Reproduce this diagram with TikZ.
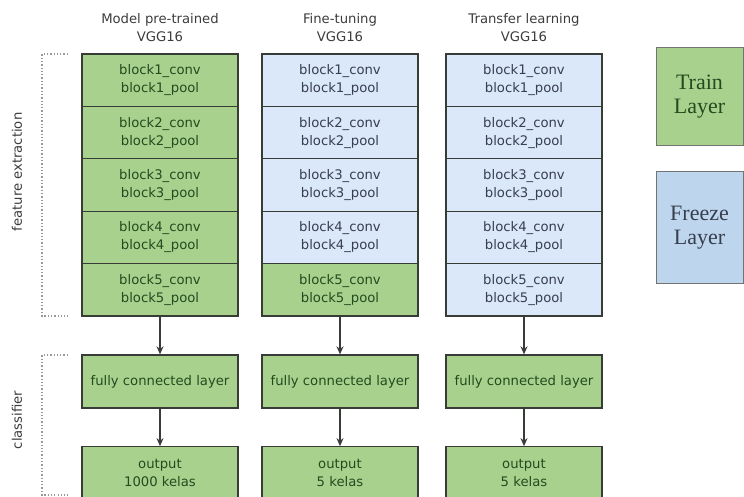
\documentclass[tikz,border=0pt]{standalone}
\usepackage{fontspec}
\setmainfont{DejaVu Sans}
\newfontfamily\legfont{Liberation Serif}
\usetikzlibrary{arrows.meta,positioning,calc}
\definecolor{gfill}{RGB}{169,209,142}
\definecolor{bfill}{RGB}{218,232,250}
\definecolor{lbfill}{RGB}{189,214,238}
\definecolor{edgecol}{RGB}{55,60,55}
\definecolor{gtext}{RGB}{35,75,30}
\definecolor{btext}{RGB}{55,62,78}
\definecolor{ttext}{RGB}{60,60,60}
\tikzset{
  blk/.style={draw=edgecol, line width=1.3pt, minimum width=156pt, minimum height=52.4pt,
    inner sep=0pt, align=center, font=\fontsize{13.2}{18}\selectfont},
  gblk/.style={blk, fill=gfill, text=gtext},
  bblk/.style={blk, fill=bfill, text=btext},
  ttl/.style={align=center, text=ttext, font=\fontsize{13.2}{18}\selectfont},
  arr/.style={draw=edgecol, line width=1.3pt, -{Stealth[length=8pt,width=7pt]}},
  brk/.style={draw=gray!80, line width=1.3pt, dash pattern=on 1.3pt off 2pt},
  side/.style={text=ttext, rotate=90, font=\fontsize{13.2}{16}\selectfont},
  leg/.style={draw=gray!90!black, line width=1pt, minimum width=87pt, inner sep=0pt,
    align=center, font=\legfont\fontsize{22}{24}\selectfont},
}
\begin{document}
\begin{tikzpicture}[x=1pt,y=-1pt]
\useasboundingbox (0,0) rectangle (744,497);
% titles
\node[ttl] (t1) at (160,28) {Model pre-trained\\VGG16};
\node[ttl] (t2) at (340,28) {Fine-tuning\\VGG16};
\node[ttl] (t3) at (524,28) {Transfer learning\\VGG16};
% column 1
\node[gblk] (a1) at (160,80.2) {block1\_conv\\block1\_pool};
\node[gblk] (a2) at (160,132.6) {block2\_conv\\block2\_pool};
\node[gblk] (a3) at (160,185) {block3\_conv\\block3\_pool};
\node[gblk] (a4) at (160,237.4) {block4\_conv\\block4\_pool};
\node[gblk] (a5) at (160,289.8) {block5\_conv\\block5\_pool};
\node[gblk, minimum height=53pt] (af) at (160,381.5) {fully connected layer};
\node[gblk] (ao) at (160,473) {output\\1000 kelas};
% column 2
\node[bblk] (b1) at (340,80.2) {block1\_conv\\block1\_pool};
\node[bblk] (b2) at (340,132.6) {block2\_conv\\block2\_pool};
\node[bblk] (b3) at (340,185) {block3\_conv\\block3\_pool};
\node[bblk] (b4) at (340,237.4) {block4\_conv\\block4\_pool};
\node[gblk] (b5) at (340,289.8) {block5\_conv\\block5\_pool};
\node[gblk, minimum height=53pt] (bf) at (340,381.5) {fully connected layer};
\node[gblk] (bo) at (340,473) {output\\5 kelas};
% column 3
\node[bblk] (c1) at (524,80.2) {block1\_conv\\block1\_pool};
\node[bblk] (c2) at (524,132.6) {block2\_conv\\block2\_pool};
\node[bblk] (c3) at (524,185) {block3\_conv\\block3\_pool};
\node[bblk] (c4) at (524,237.4) {block4\_conv\\block4\_pool};
\node[bblk] (c5) at (524,289.8) {block5\_conv\\block5\_pool};
\node[gblk, minimum height=53pt] (cf) at (524,381.5) {fully connected layer};
\node[gblk] (co) at (524,473) {output\\5 kelas};
% arrows
\foreach \p in {a,b,c}{
  \draw[arr] (\p5.south) -- (\p f.north);
  \draw[arr] (\p f.south) -- (\p o.north);
}
% brackets
\coordinate (fe1) at (68,54);
\coordinate (fe2) at (68,316);
\coordinate (cl1) at (68,355);
\coordinate (cl2) at (68,495);
\draw[brk] (fe1) -- (42,54) -- (42,316) -- (fe2);
\draw[brk] (cl1) -- (42,355) -- (42,495) -- (cl2);
\node[side] (fel) at (17,172) {feature extraction};
\node[side] (cll) at (17,420) {classifier};
% legend
\node[leg, fill=gfill, text=gtext, minimum height=98pt] (lt) at (699.5,97) {Train\\Layer};
\node[leg, fill=lbfill, text=btext, minimum height=111pt] (lf) at (699.5,227.5) {Freeze\\Layer};
\end{tikzpicture}
\end{document}
